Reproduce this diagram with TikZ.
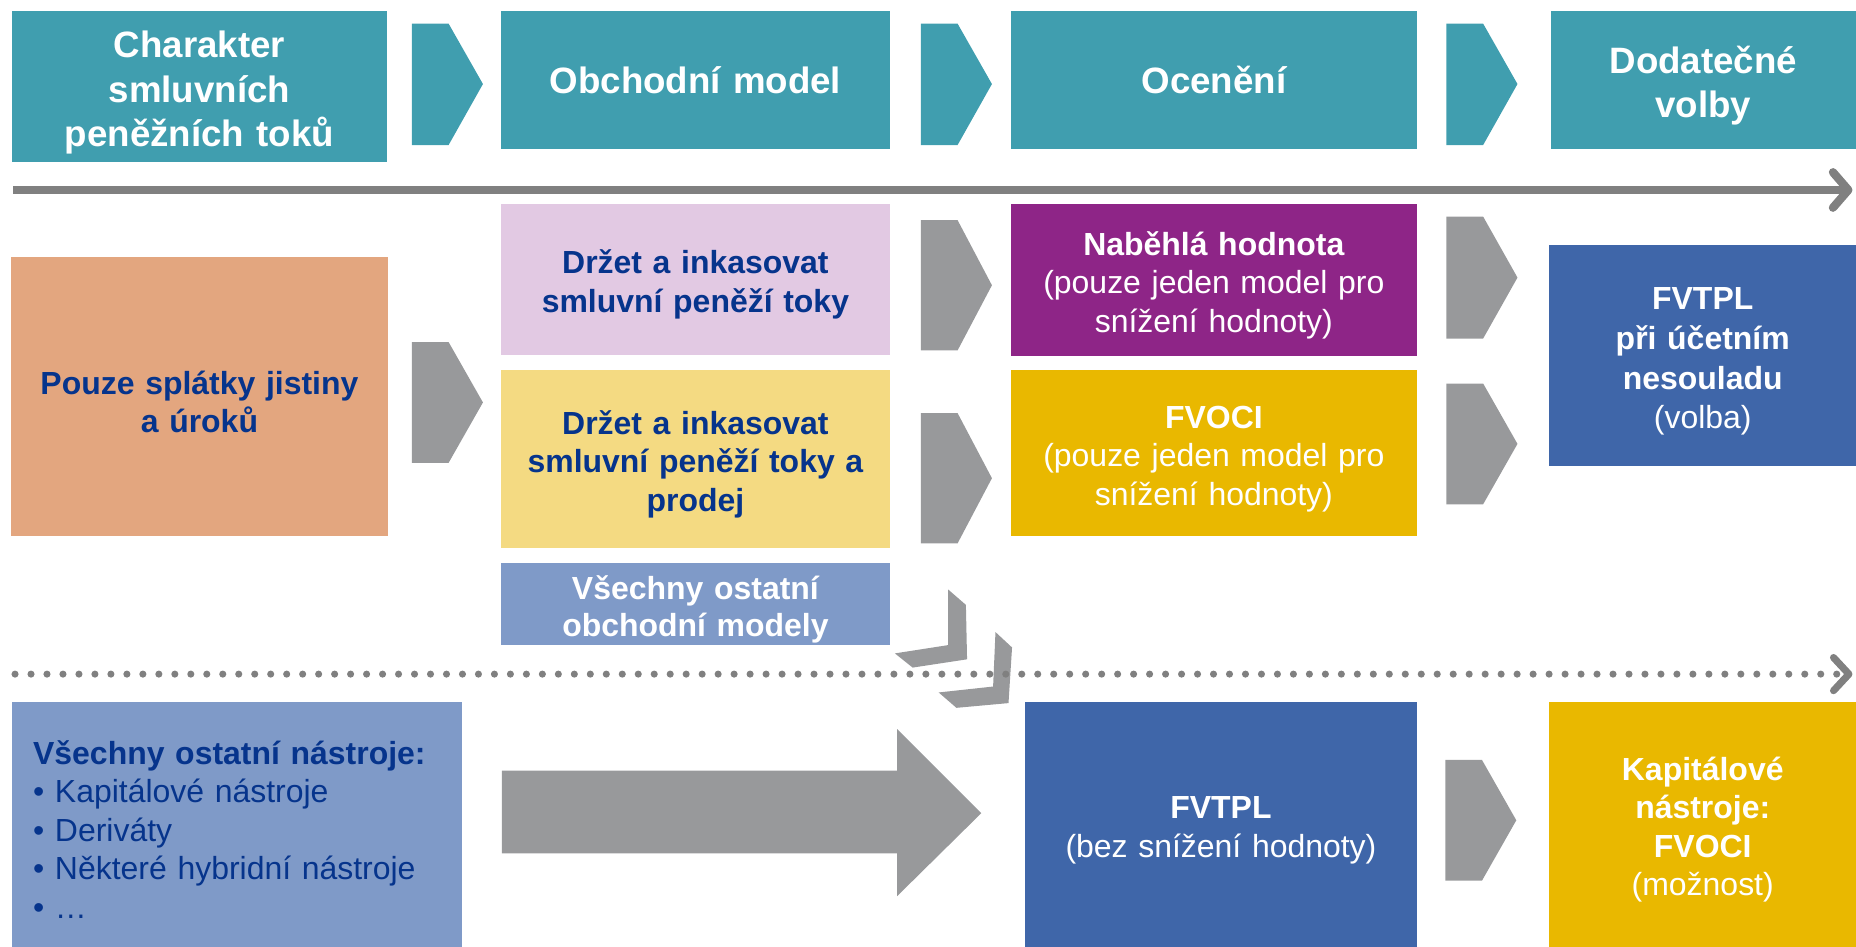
\documentclass[tikz,border=0pt]{standalone}
\usepackage{fontspec}
\setmainfont{Liberation Sans}
\usepackage{tikz}
\usetikzlibrary{arrows.meta}

\definecolor{tealbox}{RGB}{64,158,175}
\definecolor{salmon}{RGB}{227,166,127}
\definecolor{lightpurple}{RGB}{226,201,227}
\definecolor{lightyellow}{RGB}{244,218,130}
\definecolor{lavender}{RGB}{127,154,200}
\definecolor{purplebox}{RGB}{142,37,135}
\definecolor{goldbox}{RGB}{233,184,0}
\definecolor{bluebox}{RGB}{63,102,169}
\definecolor{chevgray}{RGB}{152,153,155}
\definecolor{linegray}{RGB}{128,128,128}
\definecolor{textblue}{RGB}{6,52,140}

\begin{document}
\begin{tikzpicture}[x=1pt, y=-1pt,
		box/.style={inner sep=0pt, align=center, font=\fontsize{27}{32.5}\selectfont},
		multiline/.style={execute at begin node={\rule{0pt}{1.06em}}},
		topbox/.style={box, fill=tealbox, text=white, font=\fontsize{31}{37.5}\selectfont\bfseries},
		darkbox/.style={box, multiline, text=textblue, font=\fontsize{27}{32.5}\selectfont\bfseries},
		lightbox/.style={box, multiline, text=white},
		chev/.style={fill=chevgray},
		timeline/.style={draw=linegray, line width=7pt, -{Straight Barb[round, length=13pt, width=30pt]}},
		dotline/.style={draw=linegray, line width=6pt, line cap=round, dash pattern=on 0pt off 13.5pt,
			-{Straight Barb[round, length=13pt, width=28pt]}}]
		\useasboundingbox (0,0) rectangle (1568,800);

		% Draw the header row
		\node[topbox, multiline, text width=317pt, minimum height=128pt] (char) at (168.5,73) {Charakter\\smluvních\\peněžních toků};
		\node[topbox, text width=329pt, minimum height=117pt] (obch) at (587.5,67.5) {Obchodní model};
		\node[topbox, text width=343pt, minimum height=117pt] (ocen) at (1025.5,67.5) {Ocenění};
		\node[topbox, multiline, text width=258pt, minimum height=117pt] (dodat) at (1439,67.5) {Dodatečné\\volby};
		\foreach \x in {348,778,1222}
			\fill[tealbox] (\x,20) -- ({\x+31},20) -- ({\x+60},71) -- ({\x+31},122.5) -- (\x,122.5) -- cycle;

		% Draw the solid timeline
		\coordinate (tlA) at (11,160.5);
		\coordinate (tlB) at (1565,160.5);
		\draw[timeline] (tlA) -- (tlB);

		% Draw the middle row
		\node[darkbox, fill=salmon, text width=319pt, minimum height=236pt] (splat) at (168.5,335) {Pouze splátky jistiny\\a úroků};
		\node[darkbox, fill=lightpurple, text width=329pt, minimum height=128pt] (drzet) at (587.5,236) {Držet a inkasovat\\smluvní peněží toky};
		\node[darkbox, fill=lightyellow, text width=329pt, minimum height=150pt] (drzprod) at (587.5,388) {Držet a inkasovat\\smluvní peněží toky a\\prodej};
		\node[lightbox, fill=lavender, font=\fontsize{27}{31}\selectfont\bfseries, text width=329pt, minimum height=69pt] (ostmod) at (587.5,510.5) {Všechny ostatní\\obchodní modely};
		\node[lightbox, fill=purplebox, text width=343pt, minimum height=129pt] (nabeh) at (1025.5,236.5) {\textbf{Naběhlá hodnota}\\(pouze jeden model pro\\snížení hodnoty)};
		\node[lightbox, fill=goldbox, text width=343pt, minimum height=140pt] (fvoci) at (1025.5,383) {\textbf{FVOCI}\\(pouze jeden model pro\\snížení hodnoty)};
		\node[lightbox, fill=bluebox, font=\fontsize{27}{33.5}\selectfont, text width=259pt, minimum height=187pt] (fvtplA) at (1438.5,300.5) {\textbf{FVTPL}\\\textbf{při účetním}\\\textbf{nesouladu}\\(volba)};

		% Add the gray chevrons
		\foreach \x/\t/\b in {348/289/391, 778/186/296, 778/349/459, 1222/183/286, 1222/324/426, 1221/642/744}
			\fill[chev] (\x,\t) -- ({\x+31},\t) -- ({\x+60},{(\t+\b)/2}) -- ({\x+31},\b) -- (\x,\b) -- cycle;

		% Add the bent chevrons down to FVTPL
		\fill[chev] (801,498) -- (816,511) -- (817,557) -- (771,564) -- (756,552) -- (801,545) -- cycle;
		\fill[chev] (841,534) -- (855,547) -- (852,594) -- (808,598) -- (793,585) -- (839,580) -- cycle;

		% Draw the dotted timeline
		\coordinate (dlA) at (12.7,569.5);
		\coordinate (dlB) at (1565,569.5);
		\draw[dotline] (dlA) -- (dlB);

		% Draw the bottom row
		\node[box, multiline, fill=lavender, text=textblue, align=left, text width=344pt, inner xsep=18pt, minimum height=207pt] (nastr) at (200,696.5)
			{\textbf{Všechny ostatní nástroje:}\\• Kapitálové nástroje\\• Deriváty\\• Některé hybridní nástroje\\• …};
		\fill[chev] (424,651) -- (758,651) -- (758,616) -- (829,687) -- (758,757) -- (758,721) -- (424,721) -- cycle;
		\node[lightbox, fill=bluebox, text width=331pt, minimum height=207pt] (fvtplB) at (1031.5,696.5) {\textbf{FVTPL}\\(bez snížení hodnoty)};
		\node[lightbox, fill=goldbox, text width=259pt, minimum height=207pt] (kapit) at (1438.5,696.5) {\textbf{Kapitálové}\\\textbf{nástroje:}\\\textbf{FVOCI}\\(možnost)};

	\end{tikzpicture}
\end{document}
